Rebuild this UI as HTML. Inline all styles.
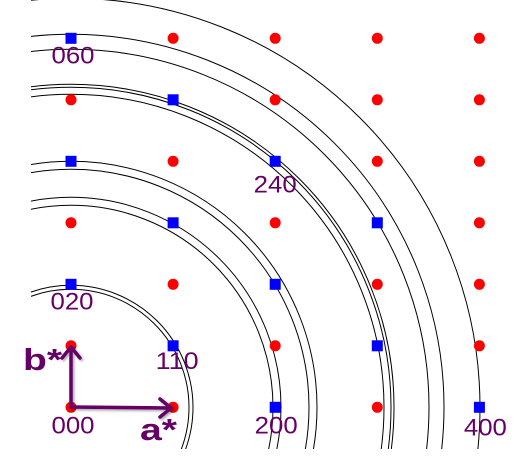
<!DOCTYPE html>
<html><head><meta charset="utf-8"><style>
html,body{margin:0;padding:0;background:#fff;width:526px;height:473px;overflow:hidden;}
svg{display:block;}
text{font-family:"Liberation Sans",sans-serif;fill:#660066;}
</style></head><body>
<svg id="chart" width="526" height="473" viewBox="0 0 526 473" xmlns="http://www.w3.org/2000/svg">
<defs>
<clipPath id="clip"><rect x="31" y="0" width="495" height="449"/></clipPath>
<filter id="sh" x="-20%" y="-20%" width="140%" height="140%"><feDropShadow dx="1.5" dy="1.5" stdDeviation="1.2" flood-color="#000" flood-opacity="0.35"/></filter>
</defs>
<g id="rings" clip-path="url(#clip)"></g>
<g id="pts"></g>
<g id="labels"></g>
<g filter="url(#sh)" stroke="#660066" stroke-width="3.5" fill="none" stroke-linecap="round" stroke-linejoin="round">
<path d="M71 407 L171 408 M160 399 L171 408 L160 417"/>
<path d="M71 407 L71 347 M62 358 L71 347 L80 358"/>
</g>
<text x="140" y="440" font-size="31" font-weight="bold" textLength="37" lengthAdjust="spacingAndGlyphs">a*</text>
<text x="23" y="370" font-size="31" font-weight="bold" textLength="39" lengthAdjust="spacingAndGlyphs">b*</text>
</svg>
<script>
const ringRadii = [118, 122, 202, 210, 238, 246, 313, 320, 323, 358, 373, 409];
const hIdx = [0,1,2,3,4];
const kIdx = [0,1,2,3,4,5,6];
const bluePoints = [[0,6],[1,5],[0,4],[2,4],[1,3],[3,3],[0,2],[2,2],[1,1],[3,1],[2,0],[4,0]];
const labelTexts = ["060","240","020","110","000","200","400"];
const labelHK = [[0,6],[2,4],[0,2],[1,1],[0,0],[2,0],[4,0]];
const labelOffsets = [[2,25],[0,31],[1,25],[4,23],[2,26],[1,26],[6,28]];

const ox = 71, oy = 407.3, dx = 102.1, dy = 61.5;
const X = h => ox + h*dx, Y = k => oy - k*dy;
const NS = "http://www.w3.org/2000/svg";
const rings = document.getElementById('rings');
ringRadii.forEach(r => {
  const c = document.createElementNS(NS,'circle');
  c.setAttribute('cx', ox); c.setAttribute('cy', oy); c.setAttribute('r', r);
  c.setAttribute('fill','none'); c.setAttribute('stroke','#000'); c.setAttribute('stroke-width','1');
  
  
  rings.appendChild(c);
});
const pts = document.getElementById('pts');
const isBlue = (h,k) => bluePoints.some(p => p[0]===h && p[1]===k);
kIdx.forEach(k => hIdx.forEach(h => {
  let el;
  if (isBlue(h,k)) {
    el = document.createElementNS(NS,'rect');
    el.setAttribute('x', X(h)-5.5); el.setAttribute('y', Y(k)-5.5);
    el.setAttribute('width', 11); el.setAttribute('height', 11);
    el.setAttribute('fill', '#0000ff');
    
  } else {
    el = document.createElementNS(NS,'circle');
    el.setAttribute('cx', X(h)); el.setAttribute('cy', Y(k)); el.setAttribute('r', 5.5);
    el.setAttribute('fill', '#ff0000');
    
  }
  
  pts.appendChild(el);
}));
const labels = document.getElementById('labels');
labelTexts.forEach((t,i) => {
  const el = document.createElementNS(NS,'text');
  el.setAttribute('x', X(labelHK[i][0]) + labelOffsets[i][0]);
  el.setAttribute('y', Y(labelHK[i][1]) + labelOffsets[i][1]);
  el.setAttribute('text-anchor','middle');
  el.setAttribute('font-size','24');
  el.setAttribute('textLength','43');
  el.setAttribute('lengthAdjust','spacingAndGlyphs');
  el.textContent = t;
  
  
  labels.appendChild(el);
});
</script>
</body></html>
